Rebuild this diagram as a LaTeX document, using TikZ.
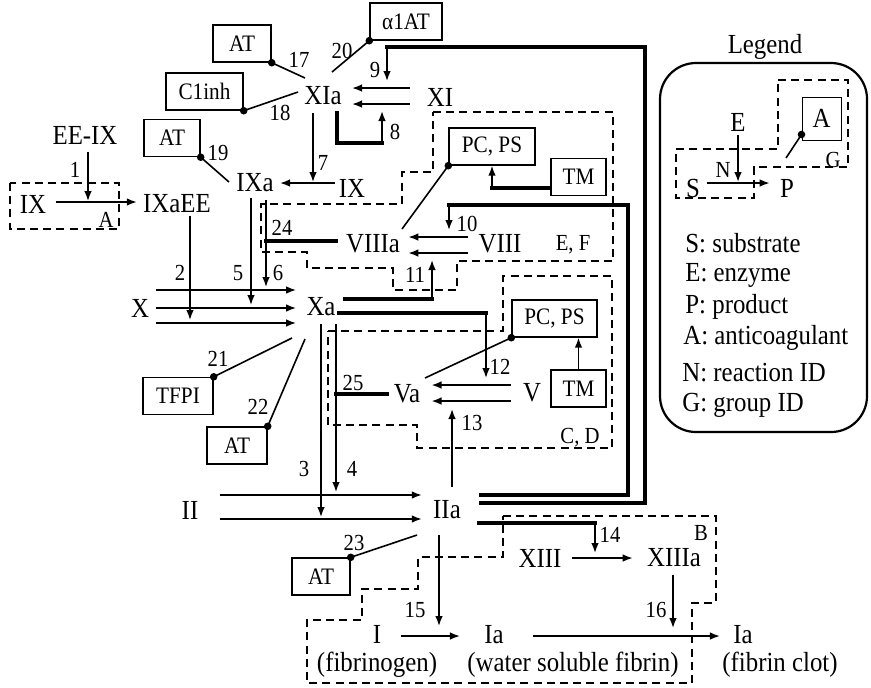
\documentclass[tikz,border=0pt]{standalone}
\usepackage{fontspec}
\setmainfont{Liberation Serif}[FakeStretch=0.9]
\usetikzlibrary{arrows.meta,calc}
\tikzset{
  fac/.style={inner sep=0pt,font=\fontsize{13.8}{15}\selectfont},
  rid/.style={inner sep=0pt,font=\fontsize{11.5}{13}\selectfont},
  inh box/.style={draw,line width=0.7pt,inner sep=0pt,minimum height=18.5pt,font=\fontsize{11.8}{13}\selectfont},
  rxn/.style={-{Latex[length=5pt,width=3.8pt]},line width=0.8pt},
  fb line/.style={line width=1.6pt,line cap=rect},
  inh line/.style={line width=0.8pt},
  dot/.style={circle,fill,inner sep=0pt,minimum size=3.8pt},
  grp line/.style={line width=0.75pt,dash pattern=on 4pt off 2.6pt},
}

\begin{document}
\begin{tikzpicture}[x=0.5pt,y=-0.5pt]
  \useasboundingbox (0,0) rectangle (871,687);

  % factors
  \node[fac] (XIa) at (323,96) {XIa};
  \node[fac] (XI) at (440,97) {XI};
  \node[fac] (IXa) at (255,183) {IXa};
  \node[fac] (IX) at (352,188) {IX};
  \node[fac] (EEIX) at (85,135) {EE-IX};
  \node[fac] (IXl) at (33,204) {IX};
  \node[fac] (IXaEE) at (177,204) {IXaEE};
  \node[fac] (X) at (140,308) {X};
  \node[fac] (Xa) at (321,307) {Xa};
  \node[fac] (VIIIa) at (373,244) {VIIIa};
  \node[fac] (VIII) at (500,244) {VIII};
  \node[fac] (Va) at (407,394) {Va};
  \node[fac] (V) at (532,393) {V};
  \node[fac] (II) at (190,510) {II};
  \node[fac] (IIa) at (447,510) {IIa};
  \node[fac] (XIII) at (540,558) {XIII};
  \node[fac] (XIIIa) at (674,558) {XIIIa};
  \node[fac] (I) at (377,634) {I};
  \node[fac] (Ia) at (494,635) {Ia};
  \node[fac] (Iac) at (743,635) {Ia};
  \node[fac] (fbg) at (377,665) {(fibrinogen)};
  \node[fac] (wsf) at (573,665) {(water soluble fibrin)};
  \node[fac] (fcl) at (780,665) {(fibrin clot)};

  % anticoagulants
  \node[inh box,minimum width=36pt] (aAT) at (406,21.5) {α1AT};
  \node[inh box,minimum width=29pt] (AT17) at (242,43.5) {AT};
  \node[inh box,minimum width=38.5pt] (C1inh) at (204.5,91.5) {C1inh};
  \node[inh box,minimum width=28pt] (AT19) at (172,138) {AT};
  \node[inh box,minimum width=43pt] (PCPS1) at (492,146.5) {PC, PS};
  \node[inh box,minimum width=27.5pt] (TM1) at (578.5,177) {TM};
  \node[inh box,minimum width=42.5pt] (PCPS2) at (554.5,318.5) {PC, PS};
  \node[inh box,minimum width=27.5pt] (TM2) at (578.5,388.5) {TM};
  \node[inh box,minimum width=35pt] (TFPI) at (178,396) {TFPI};
  \node[inh box,minimum width=30pt] (AT22) at (237,445.5) {AT};
  \node[inh box,minimum width=29pt] (AT23) at (321,576.5) {AT};

  % junctions and free ends
  \coordinate (j1) at (88,201);
  \coordinate (j2) at (190,320);
  \coordinate (j3) at (321,517);
  \coordinate (j4) at (336,492);
  \coordinate (j5) at (251,305);
  \coordinate (j6) at (266,287);
  \coordinate (j7) at (313,182);
  \coordinate (j8) at (382,111);
  \coordinate (k8) at (382,143);
  \coordinate (j9) at (387,81);
  \coordinate (k9) at (645,47);
  \coordinate (j10) at (449,230);
  \coordinate (k10) at (628,205);
  \coordinate (j11) at (432,260);
  \coordinate (j12) at (486,378);
  \coordinate (j13) at (452,409);
  \coordinate (j14) at (595,553);
  \coordinate (j15) at (439,626);
  \coordinate (j16) at (673,628);
  \coordinate (e17) at (305,78);
  \coordinate (e18) at (298,92);
  \coordinate (e19) at (229,182);
  \coordinate (e20) at (332,72);
  \coordinate (e21) at (292,338);
  \coordinate (e22) at (305,339);
  \coordinate (e23) at (417,535);
  \coordinate (ep1) at (402,229);
  \coordinate (ep2) at (425,378);

  % reactions
  \draw[rxn,shorten <=4.5pt,shorten >=3pt] ([yshift=1pt]IXl.east) -- ([yshift=1pt]IXl.east -| IXaEE.west);
  \draw[rxn,shorten <=3.6pt] (j1 |- EEIX.south) -- (j1);
  \foreach \dy in {4.5pt,-3.5pt}
    \draw[rxn,shorten <=8.5pt,shorten >=5pt] ([yshift=\dy]XI.west) -- ([yshift=\dy]XI.west -| XIa.east);
  \draw[rxn,shorten <=2pt,shorten >=3pt] ([yshift=2.5pt]IX.west) -- ([yshift=2.5pt]IX.west -| IXa.east);
  \draw[rxn,shorten <=3.6pt] (j7 |- XIa.south) -- (j7);
  \draw[fb line,shorten <=3.6pt] ([xshift=7pt]XIa.south) |- (k8);
  \draw[rxn] (k8) -- (j8);
  \draw[fb line,shorten <=9.5pt] ([yshift=3.5pt]IIa.east) -| (k9) -- (k9 -| j9);
  \draw[rxn] (k9 -| j9) -- (j9);
  \foreach \dy in {9pt,0pt,-7.5pt}
    \draw[rxn,shorten <=3.5pt,shorten >=5pt] ([yshift=\dy]X.east) -- ([yshift=\dy]X.east -| Xa.west);
  \draw[rxn,shorten <=1pt] (j2 |- IXaEE.south) -- (j2);
  \draw[rxn,shorten <=2.9pt] (j5 |- IXa.south) -- (j5);
  \draw[rxn,shorten <=3.9pt] (j6 |- IXa.south) -- (j6);
  \draw[fb line,shorten <=4.5pt] ([yshift=1.5pt]VIIIa.west) -- ([yshift=1.5pt]VIIIa.west -| j6);
  \foreach \dy in {3.5pt,-4.5pt}
    \draw[rxn,shorten <=5pt,shorten >=4pt] ([yshift=\dy]VIII.west) -- ([yshift=\dy]VIII.west -| VIIIa.east);
  \draw[fb line,shorten <=9.5pt] ([yshift=7.5pt]IIa.east) -| (k10) -- (k10 -| j10);
  \draw[rxn] (k10 -| j10) -- (j10);
  \draw[fb line,shorten <=4.5pt] ([yshift=4pt]Xa.east) -- ([yshift=4pt]Xa.east -| j11);
  \draw[rxn] ([yshift=4pt]Xa.east -| j11) -- (j11);
  \draw[fb line,shorten <=1.5pt] ([yshift=-3pt]Xa.east) -- ([yshift=-3pt]Xa.east -| j12);
  \draw[rxn] ([yshift=-3pt]Xa.east -| j12) -- (j12);
  \foreach \dy in {4pt,-4pt}
    \draw[rxn,shorten <=6pt,shorten >=5.5pt] ([yshift=\dy]V.west) -- ([yshift=\dy]V.west -| Va.east);
  \draw[rxn,shorten <=6.9pt] (j13 |- IIa.north) -- (j13);
  \draw[rxn,shorten <=3.9pt] (j3 |- Xa.south) -- (j3);
  \draw[rxn,shorten <=3.9pt] (j4 |- Xa.south) -- (j4);
  \draw[fb line,shorten <=3pt] (Va.west) -- (Va.west -| j4);
  \draw[rxn,shorten <=10.5pt,shorten >=5.5pt] ([yshift=7.5pt]II.east) -- ([yshift=7.5pt]II.east -| IIa.west);
  \draw[rxn,shorten <=10.5pt,shorten >=5.5pt] ([yshift=-4.5pt]II.east) -- ([yshift=-4.5pt]II.east -| IIa.west);
  \draw[fb line,shorten <=8.5pt] ([yshift=-6.5pt]IIa.east) -- ([yshift=-6.5pt]IIa.east -| j14);
  \draw[rxn] ([yshift=-6.5pt]IIa.east -| j14) -- (j14);
  \draw[rxn,shorten <=5pt,shorten >=7pt] (XIII.east) -- (XIII.east -| XIIIa.west);
  \draw[rxn,shorten <=7.9pt] (j15 |- IIa.south) -- (j15);
  \draw[rxn,shorten <=9.5pt,shorten >=12pt] ([yshift=-1pt]I.east) -- ([yshift=-1pt]I.east -| Ia.west);
  \draw[rxn,shorten <=14.5pt,shorten >=6.5pt] ([yshift=-0.5pt]Ia.east) -- ([yshift=-0.5pt]Ia.east -| Iac.west);
  \draw[rxn,shorten <=3.5pt] (j16 |- XIIIa.south) -- (j16);
  \draw[fb line] ([yshift=-5.5pt]TM1.west) -- ([yshift=-5.5pt]TM1.west -| PCPS1.south);
  \draw[rxn] ([yshift=-5.5pt]TM1.west -| PCPS1.south) -- (PCPS1.south);
  \draw[rxn] (TM2.north) -- (TM2.north |- PCPS2.south);

  % inhibition
  \draw[inh line] (e20) -- (aAT.south west) node[dot]{};
  \draw[inh line] (e17) -- (AT17.south east) node[dot]{};
  \draw[inh line] (e18) -- (C1inh.south east) node[dot]{};
  \draw[inh line] (e19) -- (AT19.south east) node[dot]{};
  \draw[inh line] (ep1) -- (PCPS1.south west) node[dot]{};
  \draw[inh line] (ep2) -- (PCPS2.south west) node[dot]{};
  \draw[inh line] (e21) -- (TFPI.north east) node[dot]{};
  \draw[inh line] (e22) -- (AT22.north east) node[dot]{};
  \draw[inh line] (e23) -- (AT23.north east) node[dot]{};

  % reaction IDs
  \foreach \n/\px/\py in {1/75/170,2/180/273,3/304/469,4/352/469,5/238/273,6/278/273,
      7/323/163,8/395/132,9/375/70,10/467/224,11/415/275,12/500/367,13/472/423,
      14/610/535,15/415/610,16/656/610,17/299/60,18/280/113,19/218/153,20/342/51,
      21/218/359,22/258/407,23/354/543,24/282/228,25/353/383}
    \node[rid] (n\n) at (\px,\py) {\n};

  % groups
  \draw[grp line] (10,183) rectangle (119,229);
  \draw[grp line] (433,112) -- (613,112) -- (613,261) -- (457,261) -- (457,290) -- (393,290)
    -- (393,268) -- (307,268) -- (307,252) -- (261,252) -- (261,204) -- (402,204) -- (402,172)
    -- (433,172) -- cycle;
  \draw[grp line] (328,331) -- (503,331) -- (503,276) -- (612,276) -- (612,448) -- (417,448)
    -- (417,425) -- (328,425) -- cycle;
  \draw[grp line] (503,516) -- (716,516) -- (716,603) -- (692,603) -- (692,683) -- (307,683)
    -- (307,620) -- (362,620) -- (362,589) -- (418,589) -- (418,557) -- (503,557) -- cycle;
  \node[rid] (gA) at (106,220) {A};
  \node[rid] (gEF) at (573,245) {E, F};
  \node[rid] (gCD) at (580,438) {C, D};
  \node[rid] (gB) at (701,533) {B};

  % legend
  \node[fac] (lg) at (765,47) {Legend};
  \draw[line width=1.1pt,rounded corners=18pt] (660,63) rectangle (867,432);
  \node[fac] (lE) at (738,122) {E};
  \node[fac] (lS) at (693,188) {S};
  \node[fac] (lP) at (787,188) {P};
  \node[rid] (lN) at (723,170) {N};
  \node[rid] (lG) at (833,160) {G};
  \node[draw,line width=0.5pt,inner sep=0pt,minimum width=19.5pt,minimum height=21.5pt,
    font=\fontsize{13.8}{15}\selectfont] (lA) at (821.5,118.5) {A};
  \coordinate (jN) at (738,182);
  \coordinate (eA) at (786,158);
  \draw[rxn,shorten <=1.9pt] (jN |- lE.south) -- (jN);
  \draw[rxn,shorten <=3.5pt,shorten >=5pt] ([yshift=2.5pt]lS.east) -- ([yshift=2.5pt]lS.east -| lP.west);
  \draw[inh line] (eA) -- ([yshift=3pt]lA.south west) node[dot]{};
  \draw[grp line] (778,80) -- (848,80) -- (848,167) -- (754,167) -- (754,198) -- (676,198)
    -- (676,149) -- (778,149) -- cycle;
  \node[fac,anchor=west] (tS) at (685,243) {S: substrate};
  \node[fac,anchor=west] (tE) at (685,275) {E: enzyme};
  \node[fac,anchor=west] (tP) at (685,307) {P: product};
  \node[fac,anchor=west] (tA) at (683,338) {A: anticoagulant};
  \node[fac,anchor=west] (tN) at (682,373) {N: reaction ID};
  \node[fac,anchor=west] (tG) at (682,405) {G: group ID};
\end{tikzpicture}
\end{document}
